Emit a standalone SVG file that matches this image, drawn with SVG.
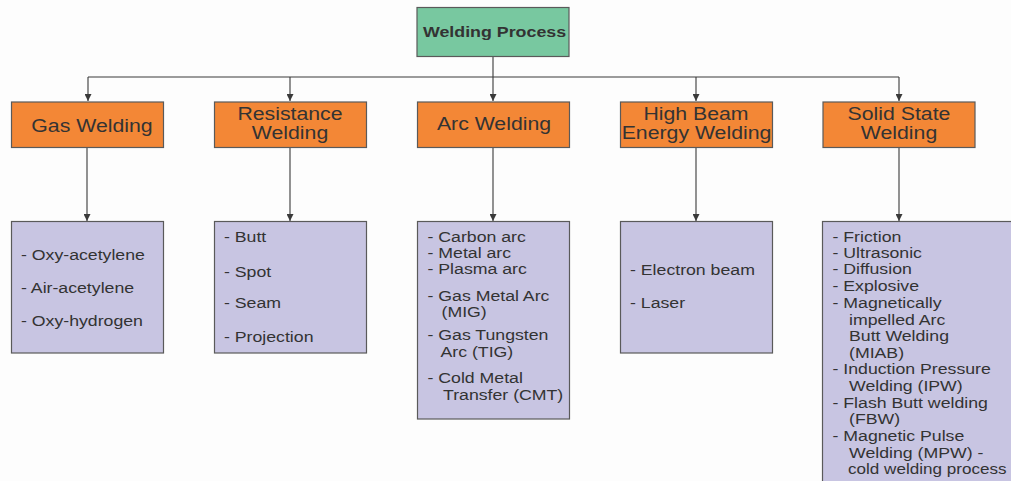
<svg xmlns="http://www.w3.org/2000/svg" width="1011" height="481" viewBox="0 0 1011 481">
<defs>
<marker id="arr" viewBox="0 0 10 10" refX="10" refY="5" markerWidth="8" markerHeight="7" markerUnits="userSpaceOnUse" orient="auto">
<path d="M0,0 L10,5 L0,10 z" fill="#3a3a3a"/>
</marker>
<style>
.box{stroke:#5a5a5a;stroke-width:1.2}
.root{fill:#78C8A0}
.cat{fill:#F38736}
.list{fill:#C8C5E2}
.conn{fill:none;stroke:#3a3a3a;stroke-width:1.1}
text{font-family:"Liberation Sans",Arial,sans-serif;fill:#333333}
.t{font-size:18.5px;text-anchor:middle}
.l{font-size:15.4px}
.b{font-size:15.5px;font-weight:bold;text-anchor:middle}
</style>
</defs>
<rect width="1011" height="481" fill="#fdfdfd"/>

<g id="connectors">
<path class="conn" d="M493,57 V77"/>
<path class="conn" d="M88,77 H899"/>
<path class="conn" d="M88,77 V101" marker-end="url(#arr)"/>
<path class="conn" d="M290,77 V101" marker-end="url(#arr)"/>
<path class="conn" d="M493,77 V101" marker-end="url(#arr)"/>
<path class="conn" d="M696,77 V101" marker-end="url(#arr)"/>
<path class="conn" d="M899,77 V101" marker-end="url(#arr)"/>
<path class="conn" d="M87,148 V221" marker-end="url(#arr)"/>
<path class="conn" d="M290,148 V221" marker-end="url(#arr)"/>
<path class="conn" d="M493,148 V221" marker-end="url(#arr)"/>
<path class="conn" d="M696,148 V221" marker-end="url(#arr)"/>
<path class="conn" d="M899,148 V221" marker-end="url(#arr)"/>
</g>

<g id="root">
<rect class="box root" x="417" y="7.5" width="152" height="49"/>
<text class="b" transform="translate(494.5 37) scale(1.15 1)">Welding Process</text>
</g>

<g id="gas">
<rect class="box cat" x="11.5" y="102" width="152" height="45.5"/>
<text class="t" transform="translate(92 131.5) scale(1.15 1)">Gas Welding</text>
</g>
<g id="resistance">
<rect class="box cat" x="214.5" y="102" width="152" height="45.5"/>
<text class="t" transform="translate(290 119.5) scale(1.15 1)">Resistance</text>
<text class="t" transform="translate(290 138.5) scale(1.15 1)">Welding</text>
</g>
<g id="arc">
<rect class="box cat" x="417.5" y="102" width="152" height="45.5"/>
<text class="t" transform="translate(494 130) scale(1.15 1)">Arc Welding</text>
</g>
<g id="highbeam">
<rect class="box cat" x="620.5" y="102" width="152" height="45.5"/>
<text class="t" transform="translate(696 119.5) scale(1.15 1)">High Beam</text>
<text class="t" transform="translate(696.5 138.5) scale(1.15 1)">Energy Welding</text>
</g>
<g id="solid">
<rect class="box cat" x="823" y="102" width="152" height="45.5"/>
<text class="t" transform="translate(899 119.5) scale(1.15 1)">Solid State</text>
<text class="t" transform="translate(899 138.5) scale(1.15 1)">Welding</text>
</g>

<g id="gas-list">
<rect class="box list" x="11.5" y="221.5" width="152" height="131.5"/>
<text class="l" transform="translate(21 259.5) scale(1.15 1)">- Oxy-acetylene</text>
<text class="l" transform="translate(21 292.5) scale(1.15 1)">- Air-acetylene</text>
<text class="l" transform="translate(21 325.5) scale(1.15 1)">- Oxy-hydrogen</text>
</g>
<g id="resistance-list">
<rect class="box list" x="214.5" y="221.5" width="152" height="131.5"/>
<text class="l" transform="translate(224 242) scale(1.15 1)">- Butt</text>
<text class="l" transform="translate(224 276.5) scale(1.15 1)">- Spot</text>
<text class="l" transform="translate(224 307.5) scale(1.15 1)">- Seam</text>
<text class="l" transform="translate(224 342) scale(1.15 1)">- Projection</text>
</g>
<g id="arc-list">
<rect class="box list" x="417.5" y="221.5" width="152" height="197.5"/>
<text class="l" transform="translate(427.5 241.7) scale(1.15 1)">- Carbon arc</text>
<text class="l" transform="translate(427.5 258.3) scale(1.15 1)">- Metal arc</text>
<text class="l" transform="translate(427.5 274.3) scale(1.15 1)">- Plasma arc</text>
<text class="l" transform="translate(427.5 301) scale(1.15 1)">- Gas Metal Arc</text>
<text class="l" transform="translate(441.5 316.7) scale(1.15 1)">(MIG)</text>
<text class="l" transform="translate(427.5 340) scale(1.15 1)">- Gas Tungsten</text>
<text class="l" transform="translate(440.5 356.7) scale(1.15 1)">Arc (TIG)</text>
<text class="l" transform="translate(427.5 383.3) scale(1.15 1)">- Cold Metal</text>
<text class="l" transform="translate(443 400) scale(1.15 1)">Transfer (CMT)</text>
</g>
<g id="highbeam-list">
<rect class="box list" x="620.5" y="221.5" width="152" height="131.5"/>
<text class="l" transform="translate(630 275) scale(1.15 1)">- Electron beam</text>
<text class="l" transform="translate(630 307.7) scale(1.15 1)">- Laser</text>
</g>
<g id="solid-list">
<rect class="box list" x="822.5" y="221.5" width="200" height="270"/>
<text class="l" transform="translate(832.5 241.7) scale(1.15 1)">- Friction</text>
<text class="l" transform="translate(832.5 258.3) scale(1.15 1)">- Ultrasonic</text>
<text class="l" transform="translate(832.5 274.3) scale(1.15 1)">- Diffusion</text>
<text class="l" transform="translate(832.5 291) scale(1.15 1)">- Explosive</text>
<text class="l" transform="translate(832.5 307.7) scale(1.15 1)">- Magnetically</text>
<text class="l" transform="translate(849 325) scale(1.15 1)">impelled Arc</text>
<text class="l" transform="translate(849 341) scale(1.15 1)">Butt Welding</text>
<text class="l" transform="translate(849 357.7) scale(1.15 1)">(MIAB)</text>
<text class="l" transform="translate(832.5 374.3) scale(1.15 1)">- Induction Pressure</text>
<text class="l" transform="translate(849 391) scale(1.15 1)">Welding (IPW)</text>
<text class="l" transform="translate(832.5 407.7) scale(1.15 1)">- Flash Butt welding</text>
<text class="l" transform="translate(849 424.3) scale(1.15 1)">(FBW)</text>
<text class="l" transform="translate(832.5 441) scale(1.15 1)">- Magnetic Pulse</text>
<text class="l" transform="translate(849 457.7) scale(1.15 1)">Welding (MPW) -</text>
<text class="l" transform="translate(848 474.3) scale(1.11 1)">cold welding process</text>
</g>
</svg>
